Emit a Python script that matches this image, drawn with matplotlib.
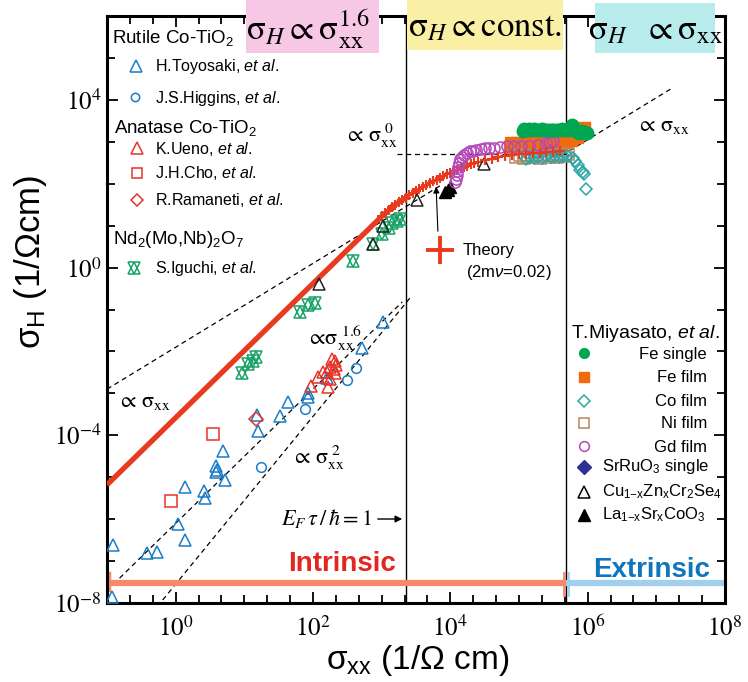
import numpy as np
import matplotlib
matplotlib.use('Agg')
import matplotlib.pyplot as plt
from matplotlib.patches import Rectangle, FancyArrowPatch
from matplotlib.ticker import FixedLocator, NullFormatter

plt.rcParams['font.family'] = ['Liberation Sans', 'DejaVu Sans']
plt.rcParams['mathtext.fontset'] = 'custom'
plt.rcParams['mathtext.rm'] = 'Liberation Sans'
plt.rcParams['mathtext.it'] = 'Liberation Sans:italic'
plt.rcParams['mathtext.bf'] = 'Liberation Sans:bold'

# ---------------- data: log10(sigma_xx), log10(sigma_H) ----------------
toyosaki_lx = [-0.91, -0.93, -0.42, -0.27, 0.03, 0.14, 0.13, 0.41, 0.42, 0.59, 0.60, 0.59,
               0.69, 0.72, 1.18, 1.20, 1.52, 1.63, 1.92, 1.93, 2.20, 2.71, 3.02]
toyosaki_ly = [-6.62, -7.85, -6.81, -6.78, -6.12, -6.50, -5.24, -5.33, -5.49, -4.73, -4.83, -4.88,
               -4.37, -5.07, -3.52, -3.89, -3.54, -3.20, -3.08, -3.00, -2.64, -1.93, -1.29]
higgins_lx = [1.25, 1.89, 2.50, 2.63]
higgins_ly = [-4.75, -3.38, -2.68, -2.39]
ueno_lx = [1.97, 2.08, 2.15, 2.25, 2.32, 2.22, 2.32, 2.34, 2.25, 2.30, 2.28, 2.20]
ueno_ly = [-2.82, -2.60, -2.48, -2.36, -2.24, -2.84, -2.52, -2.32, -2.66, -2.42, -2.18, -2.50]
cho_lx = [0.54, -0.07]
cho_ly = [-3.98, -5.56]
ramaneti_lx = [1.165]
ramaneti_ly = [-3.61]
iguchi_lx = [0.96, 1.06, 1.17, 1.12, 1.81, 1.92, 2.03, 2.58, 2.87, 3.01, 3.10, 3.15, 3.22, 3.27]
iguchi_ly = [-2.51, -2.30, -2.14, -2.22, -1.05, -0.89, -0.84, 0.16, 0.56, 0.80, 0.95, 1.06, 1.10, 1.17]
cuzn_lx = [2.09, 2.88, 3.02, 3.51, 4.49]
cuzn_ly = [-0.39, 0.56, 1.00, 1.61, 2.46]
lasr_lx = [3.92, 3.96, 3.99]
lasr_ly = [1.81, 1.86, 1.91]
gd_lx = [4.07, 4.08, 4.09, 4.10, 4.11, 4.13, 4.14, 4.17, 4.20, 4.24, 4.28, 4.33, 4.38, 4.44,
         4.50, 4.56, 4.63, 4.72, 4.82, 4.92, 5.03, 5.15, 5.28, 5.40, 5.45, 5.50]
gd_ly = [2.05, 2.12, 2.20, 2.30, 2.40, 2.50, 2.58, 2.64, 2.69, 2.74, 2.77, 2.79, 2.81, 2.82,
         2.84, 2.85, 2.86, 2.87, 2.89, 2.90, 2.90, 2.91, 2.93, 2.96, 2.99, 3.02]
fesingle_lx = [5.06, 5.08, 5.11, 5.14, 5.18, 5.22, 5.26, 5.30, 5.34, 5.38, 5.42, 5.46, 5.50,
               5.54, 5.58, 5.62, 5.66, 5.70, 5.74, 5.77, 5.80, 5.84, 5.88, 5.92, 5.96, 5.99]
fesingle_ly = [3.26, 3.30, 3.29, 3.30, 3.29, 3.30, 3.29, 3.29, 3.30, 3.28, 3.29, 3.28, 3.28,
               3.27, 3.29, 3.30, 3.27, 3.28, 3.34, 3.40, 3.28, 3.24, 3.22, 3.25, 3.22, 3.20]
fefilm_lx = [4.87, 4.95, 5.03, 5.11, 5.19, 5.27, 5.35, 5.43, 5.51, 5.59,
             4.89, 4.97, 5.05, 5.13, 5.21, 5.29, 5.37, 5.45, 5.53, 5.61,
             5.68, 5.76, 5.84, 5.90, 5.95]
fefilm_ly = [2.87, 2.87, 2.86, 2.87, 2.88, 2.87, 2.86, 2.87, 2.88, 2.89,
             2.96, 2.96, 2.95, 2.96, 2.96, 2.97, 2.96, 2.96, 2.97, 2.98,
             3.00, 3.05, 3.12, 3.26, 3.34]
nifilm_lx = [4.95, 5.01, 5.07, 5.13, 5.19, 5.25, 5.31, 5.37, 5.43, 5.49, 5.55, 5.61, 5.67, 5.72]
nifilm_ly = [2.63, 2.69, 2.62, 2.68, 2.63, 2.69, 2.62, 2.68, 2.64, 2.69, 2.63, 2.68, 2.65, 2.70]
cofilm_lx = [5.10, 5.16, 5.22, 5.28, 5.34, 5.40, 5.46, 5.52, 5.58, 5.64, 5.70, 5.78, 5.82,
             5.86, 5.89, 5.93, 5.95, 5.98]
cofilm_ly = [2.60, 2.63, 2.61, 2.64, 2.62, 2.65, 2.63, 2.66, 2.64, 2.67, 2.66, 2.62, 2.55,
             2.45, 2.33, 2.27, 2.22, 1.87]
theory_line_lx = [-1.0, 3.0, 3.2, 3.4]
theory_line_ly = [-5.18, 1.22, 1.50, 1.72]
theory_lx = [3.00, 3.05, 3.10, 3.15, 3.20, 3.25, 3.30, 3.35, 3.40, 3.45, 3.50, 3.55, 3.60, 3.65,
             3.70, 3.75, 3.80, 3.85, 3.90, 3.95, 4.00, 4.05, 4.10, 4.15, 4.20, 4.25, 4.30, 4.35,
             4.40, 4.50, 4.60, 4.70, 4.80, 4.90, 5.00, 5.10, 5.20, 5.30, 5.40, 5.50, 5.60]
theory_ly = [1.22, 1.30, 1.37, 1.44, 1.50, 1.56, 1.62, 1.67, 1.72, 1.78, 1.83, 1.88, 1.93, 1.97,
             2.02, 2.06, 2.10, 2.14, 2.18, 2.22, 2.26, 2.30, 2.33, 2.37, 2.40, 2.43, 2.46, 2.49,
             2.52, 2.56, 2.60, 2.63, 2.66, 2.68, 2.70, 2.72, 2.73, 2.74, 2.75, 2.76, 2.77]

# guide lines (log10 intercept at sigma_xx = 1, slope, x-range)
guide_lin_low = (-1.90, 1.0, -1.0, 3.85)
guide_lin_high = (-2.95, 1.0, 5.62, 7.25)
guide_p16 = (-6.10, 1.6, -1.0, 3.30)
guide_p2 = (-7.55, 2.0, -0.27, 3.42)
guide_const = (2.72, 3.22, 5.75)
vline_lx = [3.354, 5.68]
bar_ly = -7.52

x_ticklabels = ['$10^{0}$', '$10^{2}$', '$10^{4}$', '$10^{6}$', '$10^{8}$']
y_ticklabels = ['$10^{-8}$', '$10^{-4}$', '$10^{0}$', '$10^{4}$']

def P(a):
    return 10 ** np.asarray(a, dtype=float)

# ---------------- figure ----------------
W, H = 748, 682
fig = plt.figure(figsize=(W / 100, H / 100), dpi=100)
ax = fig.add_axes([107 / W, 1 - 603 / H, 618 / W, 587 / H])
ax.set_xscale('log')
ax.set_yscale('log')
ax.set_xlim(1e-1, 1e8)
ax.set_ylim(1e-8, 1e6)

def fx(px):
    return px / W

def fy(py):
    return 1 - py / H

BLUE = '#1b7cc4'
RED = '#e5352a'
GREEN = '#1aa367'
THEORY = '#e83a1e'

ms_tri = 9
dash = dict(color='black', lw=0.9, ls=(0, (4, 3)), zorder=2)
for c, s, a, b in [guide_lin_low, guide_lin_high, guide_p16, guide_p2]:
    xs = np.array([a, b])
    ax.plot(10 ** xs, 10 ** (c + s * xs), **dash)
ax.plot(P([guide_const[1], guide_const[2]]), P([guide_const[0], guide_const[0]]), **dash)

for v in vline_lx:
    ax.axvline(10 ** v, color='black', lw=1.0, zorder=1)

# theory
ax.plot(P(theory_line_lx), P(theory_line_ly), color=THEORY, lw=3.8, solid_capstyle='butt', zorder=3)
ax.plot(P(theory_lx), P(theory_ly), ls='none', marker='+', ms=7, mew=1.5, color=THEORY, zorder=3)

open_kw = dict(ls='none', mfc='none', mew=1.1, zorder=4)
ax.plot(P(toyosaki_lx), P(toyosaki_ly), marker='^', ms=ms_tri, mec=BLUE, **open_kw)
ax.plot(P(higgins_lx), P(higgins_ly), marker='o', ms=7, mec=BLUE, **open_kw)
ax.plot(P(ueno_lx), P(ueno_ly), marker='^', ms=ms_tri, mec=RED, **open_kw)
ax.plot(P(cho_lx), P(cho_ly), marker='s', ms=8, mec=RED, **open_kw)
ax.plot(P(ramaneti_lx), P(ramaneti_ly), marker='D', ms=7, mec=RED, **open_kw)
ax.plot(P(iguchi_lx), P(iguchi_ly), marker='^', ms=9, mec=GREEN, **open_kw)
ax.plot(P(iguchi_lx), P(iguchi_ly), marker='v', ms=9, mec=GREEN, **open_kw)
ax.plot(P(cuzn_lx), P(cuzn_ly), marker='^', ms=ms_tri, mec='#222222', **open_kw)
ax.plot(P(lasr_lx), P(lasr_ly), ls='none', marker='^', ms=ms_tri, color='black', zorder=4)
ax.plot(P(fefilm_lx), P(fefilm_ly), ls='none', marker='s', ms=9, color='#f26a10', zorder=4)
ax.plot(P(nifilm_lx), P(nifilm_ly), marker='s', ms=8, mec='#b8875e', **open_kw)
ax.plot(P(cofilm_lx), P(cofilm_ly), marker='D', ms=6, mec='#2aa6a6', **open_kw)
ax.plot(P(gd_lx), P(gd_ly), marker='o', ms=8, mec='#b548b8', **open_kw)
ax.plot(P(fesingle_lx), P(fesingle_ly), ls='none', marker='o', ms=9, color='#00a651', zorder=5)
ax.plot(P(theory_lx[-12:]), P(theory_ly[-12:]), ls='none', marker='+', ms=7, mew=1.5, color=THEORY, zorder=6)

# intrinsic / extrinsic bars
ax.plot(P([-1.0, vline_lx[1]]), P([bar_ly, bar_ly]), color='#f7896b', lw=4.5, solid_capstyle='butt', zorder=2)
ax.plot(P([vline_lx[1], 8.0]), P([bar_ly, bar_ly]), color='#a3cfee', lw=4.5, solid_capstyle='butt', zorder=2)
ax.plot(P([-0.975, -0.975]), P([-7.28, -7.70]), color='#f7896b', lw=2.5, zorder=2)
ax.plot(P([vline_lx[1] - 0.02, vline_lx[1] - 0.02]), P([-7.28, -7.80]), color='#f7896b', lw=2.0, zorder=2)
ax.plot(P([vline_lx[1] + 0.03, vline_lx[1] + 0.03]), P([-7.28, -7.80]), color='#a3cfee', lw=2.0, zorder=2)

# axes styling
for s in ax.spines.values():
    s.set_linewidth(2.2)
min_x = [10.0 ** (k + f) for k in range(-1, 8) for f in (1 / 3, 2 / 3)]
ax.set_xticks([1e0, 1e2, 1e4, 1e6, 1e8])
ax.xaxis.set_minor_locator(FixedLocator(min_x + [1e-1, 1e1, 1e3, 1e5, 1e7]))
ax.xaxis.set_minor_formatter(NullFormatter())
ax.set_xticklabels(x_ticklabels)
ax.set_yticks([1e-8, 1e-4, 1e0, 1e4])
ax.yaxis.set_minor_locator(FixedLocator([10.0 ** k for k in range(-8, 7)]))
ax.yaxis.set_minor_formatter(NullFormatter())
ax.set_yticklabels(y_ticklabels)
ax.tick_params(which='both', direction='in', top=True, right=True, width=1.3)
ax.tick_params(which='major', length=8)
ax.tick_params(which='minor', length=6)
ax.tick_params(axis='x', which='major', labelsize=18, pad=9)
ax.tick_params(axis='y', which='major', labelsize=18, pad=4)
for t in ax.get_xticklabels() + ax.get_yticklabels():
    t.set_math_fontfamily('stix')

fig.text(fx(418), fy(660), r'$\mathrm{\sigma}_{\rm xx}$ (1/$\Omega$ cm)', fontsize=24,
         ha='center', va='center')
fig.text(fx(31), fy(262), r'$\mathrm{\sigma}_{\rm H}$ (1/$\Omega$cm)', fontsize=25,
         ha='center', va='center', rotation=90)

# banners
for (x0, y0, x1, y1, col) in [(246, 0, 379, 53, '#f7c8e6'), (407, 0, 563, 50, '#f9f0a6'),
                              (595, 3, 715, 53, '#b8ebeb')]:
    fig.patches.append(Rectangle((fx(x0), fy(y1)), (x1 - x0) / W, (y1 - y0) / H,
                                 transform=fig.transFigure, color=col, zorder=5, lw=0))
fig.text(fx(308), fy(29), r'$\mathrm{\sigma}_H \propto \mathrm{\sigma}_{\rm xx}^{1.6}$', fontsize=25,
         ha='center', va='center', math_fontfamily='stix', zorder=6)
fig.text(fx(485), fy(27), r'$\mathrm{\sigma}_H \propto \mathrm{const.}$', fontsize=25,
         ha='center', va='center', math_fontfamily='stix', zorder=6)
fig.text(fx(655), fy(30), r'$\mathrm{\sigma}_H\ \ \propto \mathrm{\sigma}_{\rm xx}$', fontsize=25,
         ha='center', va='center', math_fontfamily='stix', zorder=6)

# guide labels
gl = dict(fontsize=16, ha='center', va='center', math_fontfamily='stix')
fig.text(fx(144), fy(402), r'$\propto\,\mathrm{\sigma}_{\rm xx}$', **gl)
fig.text(fx(334), fy(338), r'$\propto\!\mathrm{\sigma}_{\rm xx}^{\ 1.6}$', **gl)
fig.text(fx(318), fy(458), r'$\propto\,\mathrm{\sigma}_{\rm xx}^{\ 2}$', **gl)
fig.text(fx(371), fy(136), r'$\propto\,\mathrm{\sigma}_{\rm xx}^{\ 0}$', **gl)
fig.text(fx(663), fy(126), r'$\propto\,\mathrm{\sigma}_{\rm xx}$', **gl)
fig.text(fx(372), fy(519), r'$E_F\,\tau\,/\,\hbar = 1$', fontsize=16, ha='right', va='center',
         math_fontfamily='stix')
fig.patches.append(FancyArrowPatch((fx(375), fy(519)), (fx(405), fy(519)), transform=fig.transFigure,
                                   arrowstyle='-|>', mutation_scale=10, color='black', lw=1))

# intrinsic / extrinsic labels
fig.text(fx(342), fy(564), 'Intrinsic', fontsize=20, fontweight='bold', color='#e3261f',
         ha='center', va='center')
fig.text(fx(652), fy(570), 'Extrinsic', fontsize=20, fontweight='bold', color='#0f75bc',
         ha='center', va='center')

# theory legend
fig.lines.append(plt.Line2D([fx(440)], [fy(250)], transform=fig.transFigure, marker='+', ms=20,
                            mew=2.8, color=THEORY, ls='none'))
fig.text(fx(463), fy(251), 'Theory', fontsize=12, ha='left', va='center')
fig.text(fx(466), fy(272), r'(2m$\nu$=0.02)', fontsize=12, ha='left', va='center')
fig.patches.append(FancyArrowPatch((fx(438), fy(234)), (fx(436), fy(184)), transform=fig.transFigure,
                                   arrowstyle='-|>', mutation_scale=9, color='black', lw=0.8))

# left legend
def mark(px, py, **kw):
    fig.lines.append(plt.Line2D([fx(px)], [fy(py)], transform=fig.transFigure, ls='none', **kw))

lt = dict(fontsize=11.5, ha='left', va='center')
hd = dict(fontsize=13.5, ha='left', va='center')
fig.text(fx(112), fy(38), r'Rutile Co-TiO$_2$', **hd)
mark(136, 66, marker='^', ms=8, mfc='none', mec=BLUE, mew=1.1)
fig.text(fx(155), fy(67), r'H.Toyosaki, $\it{et\ al.}$', **lt)
mark(135, 97, marker='o', ms=6, mfc='none', mec=BLUE, mew=1.1)
fig.text(fx(155), fy(98), r'J.S.Higgins, $\it{et\ al.}$', **lt)
fig.text(fx(114), fy(128), r'Anatase Co-TiO$_2$', **hd)
mark(137, 148, marker='^', ms=8, mfc='none', mec=RED, mew=1.1)
fig.text(fx(155), fy(149), r'K.Ueno, $\it{et\ al.}$', **lt)
mark(137, 173, marker='s', ms=7, mfc='none', mec=RED, mew=1.1)
fig.text(fx(155), fy(173), r'J.H.Cho, $\it{et\ al.}$', **lt)
mark(137, 200, marker='D', ms=6, mfc='none', mec=RED, mew=1.1)
fig.text(fx(155), fy(200), r'R.Ramaneti, $\it{et\ al.}$', **lt)
fig.text(fx(113), fy(240), r'Nd$_2$(Mo,Nb)$_2$O$_7$', **hd)
mark(134, 268, marker='^', ms=8, mfc='none', mec=GREEN, mew=1.1)
mark(134, 268, marker='v', ms=8, mfc='none', mec=GREEN, mew=1.1)
fig.text(fx(155), fy(268), r'S.Iguchi, $\it{et\ al.}$', **lt)

# right legend
fig.text(fx(571), fy(333), r'T.Miyasato, $\it{et\ al.}$', fontsize=14, ha='left', va='center')
rl = [
    (353, dict(marker='o', ms=7, color='#00a651'), 'Fe single', 'r'),
    (377, dict(marker='s', ms=7, color='#f26a10'), 'Fe film', 'r'),
    (401, dict(marker='D', ms=6, mfc='none', mec='#2aa6a6', mew=1.1), 'Co film', 'r'),
    (423, dict(marker='s', ms=7, mfc='none', mec='#b8875e', mew=1.1), 'Ni film', 'r'),
    (446, dict(marker='o', ms=7, mfc='none', mec='#b548b8', mew=1.1), 'Gd film', 'r'),
    (467, dict(marker='D', ms=7, color='#2e3192'), r'SrRuO$_3$ single', 'l'),
    (492, dict(marker='^', ms=8, mfc='none', mec='black', mew=1.1), r'Cu$_{1\mathrm{-x}}$Zn$_\mathrm{x}$Cr$_2$Se$_4$', 'l'),
    (515, dict(marker='^', ms=8, color='black'), r'La$_{1\mathrm{-x}}$Sr$_\mathrm{x}$CoO$_3$', 'l'),
]
for py, mk, label, al in rl:
    mark(584, py, **mk)
    if al == 'r':
        fig.text(fx(707), fy(py + 1), label, fontsize=12, ha='right', va='center')
    else:
        fig.text(fx(602), fy(py), label, fontsize=12, ha='left', va='center')

fig.savefig('out.png', dpi=100)
